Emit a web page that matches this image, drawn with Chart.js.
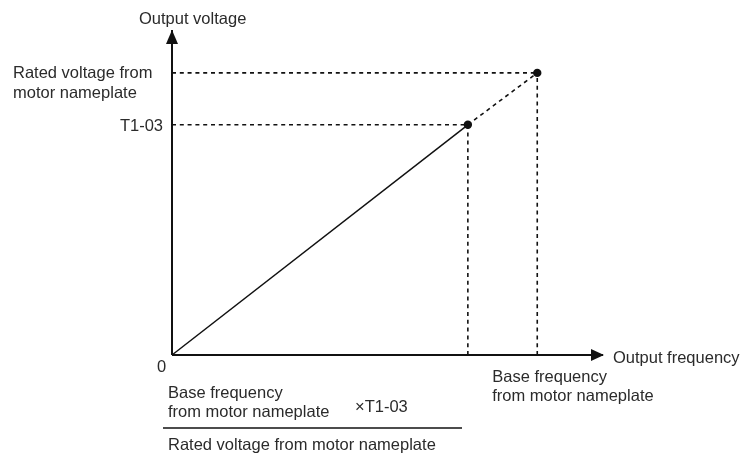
<!DOCTYPE html>
<html>
<head>
<meta charset="utf-8">
<script src="https://cdn.jsdelivr.net/npm/chart.js@4/dist/chart.umd.min.js"></script>
<style>
  html, body { margin: 0; padding: 0; background: #ffffff; }
  canvas { display: block; }
</style>
</head>
<body>
<canvas id="vf" width="745" height="456"></canvas>
<script>
// Output frequency / output voltage, in percent of the motor nameplate values
const pointNames      = ['Origin', 'T1-03', 'Rated'];
const outputFrequency = [0, 81, 100];
const outputVoltage   = [0, 81.6, 100];
// Extent of the two axes (arrow tips)
const axisMax = [118, 115.2];

const INK = '#111111';
const TEXT = '#2b2b2b';
const FONT = '16.5px "Liberation Sans", Arial, sans-serif';
const DASH = [4, 3.8];

const [f0, fT, fR] = outputFrequency;
const [v0, vT, vR] = outputVoltage;

function seg(x1, y1, x2, y2) { return [{ x: x1, y: y1 }, { x: x2, y: y2 }]; }

const lineBase = { showLine: true, pointRadius: 0, fill: false, clip: false, borderColor: INK, tension: 0, borderCapStyle: 'butt' };

const datasets = [
  // axes
  Object.assign({}, lineBase, { data: seg(0, 0, axisMax[0], 0), borderWidth: 2 }),
  Object.assign({}, lineBase, { data: seg(0, 0, 0, axisMax[1]), borderWidth: 2 }),
  // solid V/f line up to T1-03
  Object.assign({}, lineBase, { data: seg(f0, v0, fT, vT), borderWidth: 1.5 }),
  // dashed extension up to rated point
  Object.assign({}, lineBase, { data: seg(fT, vT, fR, vR), borderWidth: 1.6, borderDash: DASH }),
  // guide lines
  Object.assign({}, lineBase, { data: seg(0, vR, fR, vR), borderWidth: 1.6, borderDash: DASH }),
  Object.assign({}, lineBase, { data: seg(0, vT, fT, vT), borderWidth: 1.6, borderDash: DASH }),
  Object.assign({}, lineBase, { data: seg(fT, 0, fT, vT), borderWidth: 1.6, borderDash: DASH }),
  Object.assign({}, lineBase, { data: seg(fR, 0, fR, vR), borderWidth: 1.6, borderDash: DASH }),
  // marked points
  {
    showLine: false, clip: false,
    data: [{ x: fT, y: vT }, { x: fR, y: vR }],
    pointRadius: 4.2, pointBackgroundColor: INK, pointBorderColor: INK, pointBorderWidth: 0
  }
];

// Arrowheads and all annotation text
const annotations = {
  id: 'annotations',
  afterDatasetsDraw(chart) {
    const ctx = chart.ctx;
    const xs = chart.scales.x, ys = chart.scales.y;
    const X = v => xs.getPixelForValue(v);
    const Y = v => ys.getPixelForValue(v);
    const ox = X(0), oy = Y(0);
    const xTip = X(axisMax[0]), yTip = Y(axisMax[1]);

    ctx.save();
    ctx.fillStyle = INK;
    // vertical arrow
    ctx.beginPath();
    ctx.moveTo(ox, yTip);
    ctx.lineTo(ox - 6, yTip + 14);
    ctx.lineTo(ox + 6, yTip + 14);
    ctx.closePath();
    ctx.fill();
    // horizontal arrow
    ctx.beginPath();
    ctx.moveTo(xTip + 1, oy);
    ctx.lineTo(xTip - 12, oy - 6);
    ctx.lineTo(xTip - 12, oy + 6);
    ctx.closePath();
    ctx.fill();

    ctx.fillStyle = TEXT;
    ctx.font = FONT;
    ctx.textBaseline = 'alphabetic';
    ctx.textAlign = 'left';

    ctx.fillText('Output voltage', ox - 33, yTip - 6);
    ctx.fillText('Rated voltage from', 13, Y(vR) + 5.5);
    ctx.fillText('motor nameplate', 13, Y(vR) + 25);
    ctx.textAlign = 'right';
    ctx.fillText('T1-03', ox - 9, Y(vT) + 6);
    ctx.textAlign = 'center';
    ctx.fillText('0', ox - 10.5, oy + 17);
    ctx.textAlign = 'left';
    ctx.fillText('Output frequency', xTip + 10, oy + 8);
    ctx.fillText('Base frequency', X(fR) - 45, oy + 26.5);
    ctx.fillText('from motor nameplate', X(fR) - 45, oy + 45.5);

    // formula for the T1-03 frequency
    ctx.fillText('Base frequency', ox - 4, oy + 42.5);
    ctx.fillText('from motor nameplate', ox - 4, oy + 62);
    ctx.fillText('\u00D7T1-03', ox + 183, oy + 56.5);
    ctx.fillText('Rated voltage from motor nameplate', ox - 4, oy + 95);
    ctx.strokeStyle = INK;
    ctx.lineWidth = 1.3;
    ctx.beginPath();
    ctx.moveTo(ox - 9, oy + 73);
    ctx.lineTo(ox + 290, oy + 73);
    ctx.stroke();
    ctx.restore();
  }
};

new Chart(document.getElementById('vf'), {
  type: 'scatter',
  data: { datasets },
  options: {
    responsive: false,
    animation: false,
    layout: { padding: { left: 172, right: 142, top: 30, bottom: 101 } },
    plugins: { legend: { display: false }, tooltip: { enabled: false } },
    scales: {
      x: { type: 'linear', min: 0, max: axisMax[0], display: false },
      y: { type: 'linear', min: 0, max: axisMax[1], display: false }
    }
  },
  plugins: [annotations]
});
</script>
</body>
</html>
